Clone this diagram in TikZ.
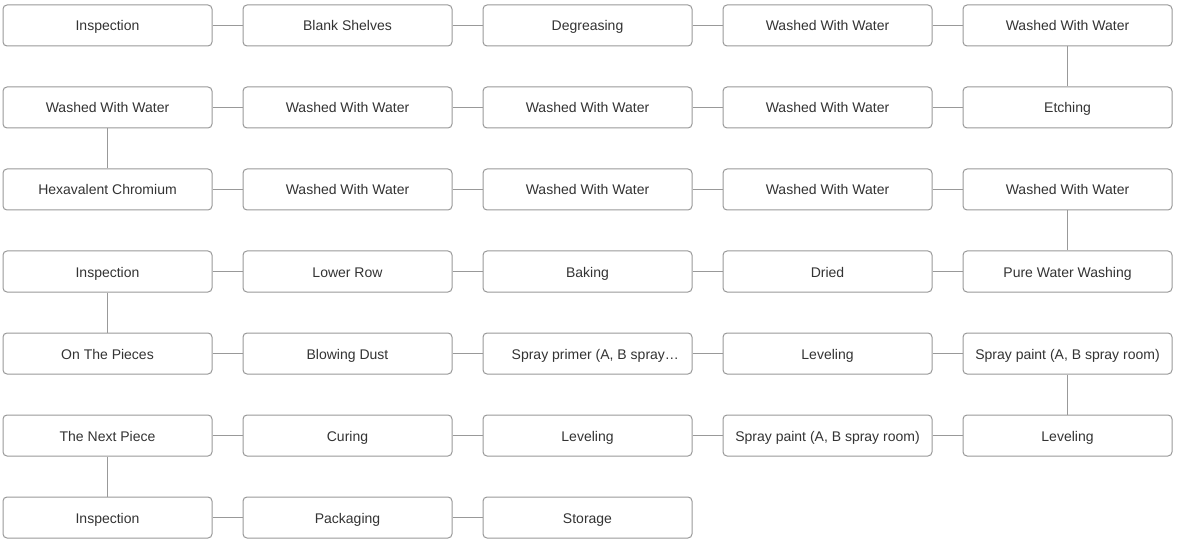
\documentclass[tikz,border=0pt]{standalone}
\usepackage{fontspec}
\setmainfont{Liberation Sans}
\definecolor{bordergray}{HTML}{999999}
\definecolor{txtgray}{HTML}{333333}
\tikzset{
  stepbox/.style={draw=bordergray, line width=1pt, rounded corners=4pt, minimum width=209pt, minimum height=41pt, inner sep=0pt, text height=12pt, text depth=1pt, text=txtgray, font=\fontsize{14pt}{16pt}\selectfont, fill=white},
  link/.style={draw=bordergray, line width=1pt}
}
\begin{document}
\begin{tikzpicture}[x=1pt,y=-1pt]
\useasboundingbox (0,0) rectangle (1177,545);
% row 1
\node[stepbox] (a1) at (107.5,25.5) {Inspection};
\node[stepbox] (a2) at (347.5,25.5) {Blank Shelves};
\node[stepbox] (a3) at (587.5,25.5) {Degreasing};
\node[stepbox] (a4) at (827.5,25.5) {Washed With Water};
\node[stepbox] (a5) at (1067.5,25.5) {Washed With Water};
% row 2
\node[stepbox] (b1) at (107.5,107.5) {Washed With Water};
\node[stepbox] (b2) at (347.5,107.5) {Washed With Water};
\node[stepbox] (b3) at (587.5,107.5) {Washed With Water};
\node[stepbox] (b4) at (827.5,107.5) {Washed With Water};
\node[stepbox] (b5) at (1067.5,107.5) {Etching};
% row 3
\node[stepbox] (c1) at (107.5,189.5) {Hexavalent Chromium};
\node[stepbox] (c2) at (347.5,189.5) {Washed With Water};
\node[stepbox] (c3) at (587.5,189.5) {Washed With Water};
\node[stepbox] (c4) at (827.5,189.5) {Washed With Water};
\node[stepbox] (c5) at (1067.5,189.5) {Washed With Water};
% row 4
\node[stepbox] (d1) at (107.5,271.5) {Inspection};
\node[stepbox] (d2) at (347.5,271.5) {Lower Row};
\node[stepbox] (d3) at (587.5,271.5) {Baking};
\node[stepbox] (d4) at (827.5,271.5) {Dried};
\node[stepbox] (d5) at (1067.5,271.5) {Pure Water Washing};
% row 5
\node[stepbox] (e1) at (107.5,353.5) {On The Pieces};
\node[stepbox] (e2) at (347.5,353.5) {Blowing Dust};
\node[stepbox] (e3) at (587.5,353.5) {};
\node[text=txtgray, font=\fontsize{14pt}{16pt}\selectfont, anchor=west, inner sep=0pt, text height=12pt, text depth=1pt] (e3t) at (511.5,353.5) {Spray primer (A, B spray…};
\node[stepbox] (e4) at (827.5,353.5) {Leveling};
\node[stepbox] (e5) at (1067.5,353.5) {Spray paint (A, B spray room)};
% row 6
\node[stepbox] (f1) at (107.5,435.5) {The Next Piece};
\node[stepbox] (f2) at (347.5,435.5) {Curing};
\node[stepbox] (f3) at (587.5,435.5) {Leveling};
\node[stepbox] (f4) at (827.5,435.5) {Spray paint (A, B spray room)};
\node[stepbox] (f5) at (1067.5,435.5) {Leveling};
% row 7
\node[stepbox] (g1) at (107.5,517.5) {Inspection};
\node[stepbox] (g2) at (347.5,517.5) {Packaging};
\node[stepbox] (g3) at (587.5,517.5) {Storage};
% connectors
\foreach \r in {a,b,c,d,e,f}{
  \draw[link] (\r1) -- (\r2);
  \draw[link] (\r2) -- (\r3);
  \draw[link] (\r3) -- (\r4);
  \draw[link] (\r4) -- (\r5);
}
\draw[link] (g1) -- (g2);
\draw[link] (g2) -- (g3);
\draw[link] (a5) -- (b5);
\draw[link] (b1) -- (c1);
\draw[link] (c5) -- (d5);
\draw[link] (d1) -- (e1);
\draw[link] (e5) -- (f5);
\draw[link] (f1) -- (g1);
\end{tikzpicture}
\end{document}
